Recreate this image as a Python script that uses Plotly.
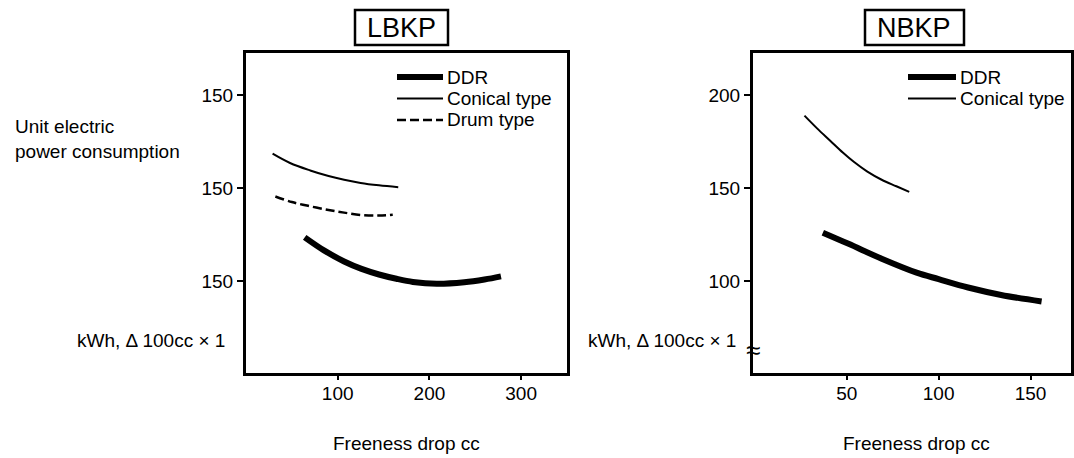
"""Unit electric power consumption vs freeness drop: LBKP and NBKP panels."""
import plotly.graph_objects as go

# ---- data ----
lbkp_ddr_x = [64, 85, 107, 126, 145, 164, 182, 208, 238, 260, 278]
lbkp_ddr_y = [173.5, 166.5, 160.5, 156.5, 153.5, 151.2, 149.5, 148.5, 149.3, 150.8, 152.5]
lbkp_conical_x = [29, 48, 70, 90, 107, 125, 145, 166]
lbkp_conical_y = [218.5, 213.5, 209.5, 206.5, 204.5, 202.8, 201.5, 200.5]
lbkp_drum_x = [32, 50, 70, 90, 107, 126, 145, 160]
lbkp_drum_y = [195.5, 192.5, 190.2, 188.2, 186.8, 185.5, 185.2, 185.6]

nbkp_ddr_x = [37, 51, 69, 88, 100, 116, 134, 156]
nbkp_ddr_y = [126, 120, 112, 104.5, 101, 96.5, 92.5, 89]
nbkp_conical_x = [27, 34, 41, 48, 54, 61, 69, 77, 84]
nbkp_conical_y = [189, 182, 175.5, 169, 164, 159, 154.5, 151, 148]

lbkp_names = ["DDR", "Conical type", "Drum type"]
nbkp_names = ["DDR", "Conical type"]

lbkp_xticks = [100, 200, 300]
lbkp_yticks = [150, 200, 250]
lbkp_yticktext = ["150", "150", "150"]  # as printed in the source figure
nbkp_xticks = [50, 100, 150]
nbkp_yticks = [100, 150, 200]

W, H = 1074, 458
FONT = "Liberation Sans, Arial, Helvetica, sans-serif"


def px(x):
    return x / W


def py(y):
    return 1 - y / H


styles = {
    "DDR": dict(color="black", width=6, shape="spline"),
    "Conical type": dict(color="black", width=2, shape="spline"),
    "Drum type": dict(color="black", width=2.5, dash="9px,4px", shape="spline"),
}

fig = go.Figure()
panels = [
    ("x", "y", lbkp_names, [(lbkp_ddr_x, lbkp_ddr_y), (lbkp_conical_x, lbkp_conical_y),
                            (lbkp_drum_x, lbkp_drum_y)]),
    ("x2", "y2", nbkp_names, [(nbkp_ddr_x, nbkp_ddr_y), (nbkp_conical_x, nbkp_conical_y)]),
]
for xa, ya, names, series in panels:
    for name, (xs, ys) in zip(names, series):
        fig.add_trace(go.Scatter(x=xs, y=ys, mode="lines", name=name, line=styles[name],
                                 xaxis=xa, yaxis=ya, showlegend=False))

axis_common = dict(showline=True, linecolor="black", linewidth=3, mirror=True,
                   ticks="outside", tickwidth=2, tickcolor="black",
                   showgrid=False, zeroline=False,
                   tickfont=dict(size=19, color="black", family=FONT))
xaxis_extra = dict(ticklen=4, ticklabelstandoff=-3)
yaxis_extra = dict(ticklen=6)

ydom = [py(373), py(53)]
fig.update_layout(
    xaxis=dict(domain=[px(246), px(567)], range=[0, 350], tickvals=lbkp_xticks,
               anchor="y", **axis_common, **xaxis_extra),
    yaxis=dict(domain=ydom, range=[100.5, 272.7], tickvals=lbkp_yticks,
               ticktext=lbkp_yticktext, anchor="x", **axis_common, **yaxis_extra),
    xaxis2=dict(domain=[px(753), px(1071)], range=[-1, 172], tickvals=nbkp_xticks,
                anchor="y2", **axis_common, **xaxis_extra),
    yaxis2=dict(domain=ydom, range=[50.5, 222.7], tickvals=nbkp_yticks,
                anchor="x2", **axis_common, **yaxis_extra),
    showlegend=False,
    width=W, height=H,
    margin=dict(l=0, r=0, t=0, b=0),
    paper_bgcolor="white", plot_bgcolor="white",
    font=dict(family=FONT, size=19, color="black"),
)

# hand-placed legends (sample line + label), one per panel
for names, x0, x1 in [(lbkp_names, 397, 443), (nbkp_names, 908, 956)]:
    for i, name in enumerate(names):
        yy = 77 + 21.5 * i
        st = {k: v for k, v in styles[name].items() if k != "shape"}
        fig.add_shape(type="line", xref="paper", yref="paper",
                      x0=px(x0), x1=px(x1), y0=py(yy), y1=py(yy), line=st)
        fig.add_annotation(x=px(x1 + 2), y=py(yy), xref="paper", yref="paper", text=name,
                           xanchor="left", yanchor="middle", showarrow=False,
                           font=dict(size=19, color="black"))

# panel titles in boxes
for cx, label, x0, x1 in [(401, "LBKP", 355, 448), (914, "NBKP", 865, 964)]:
    fig.add_shape(type="rect", xref="paper", yref="paper",
                  x0=px(x0), x1=px(x1), y0=py(45), y1=py(10),
                  line=dict(color="black", width=2.5))
    fig.add_annotation(x=px(cx), y=py(28), xref="paper", yref="paper", text=label,
                       xanchor="center", yanchor="middle",
                       showarrow=False, font=dict(size=27, color="black"))

annots = [
    dict(x=px(13), y=py(139), text="Unit electric<br>power consumption",
         xanchor="left", align="left"),
    dict(x=px(227), y=py(340), text="kWh, Δ 100cc × 1", xanchor="right"),
    dict(x=px(738), y=py(340), text="kWh, Δ 100cc × 1", xanchor="right"),
    dict(x=px(406), y=py(443), text="Freeness drop cc", xanchor="center"),
    dict(x=px(916), y=py(443), text="Freeness drop cc", xanchor="center"),
]
for a in annots:
    fig.add_annotation(xref="paper", yref="paper", showarrow=False, yanchor="middle",
                       font=dict(size=19, color="black"), **a)

# axis break mark on the NBKP y axis
fig.add_annotation(x=px(753), y=py(350), xref="paper", yref="paper", text="≈",
                   xanchor="center", yanchor="middle",
                   showarrow=False, font=dict(size=26, color="black"))

fig.write_html("out.html", config={"displayModeBar": False},
               post_script="document.body.style.margin='0px';")
